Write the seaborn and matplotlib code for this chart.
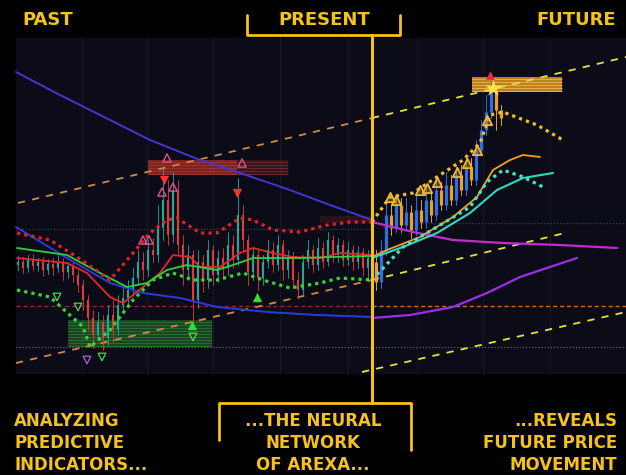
import matplotlib
matplotlib.use("Agg")
import matplotlib.pyplot as plt
import seaborn as sns
from matplotlib.patches import Rectangle

# -------------------------- data (pixel units of the 626x475 frame, y grows downward) --------------------------
# past candles
past_x = list(range(18, 369, 5))
past_open0 = 265
past_close = [262, 268, 260, 266, 262, 270, 264, 268, 262, 272, 266, 275, 285, 300, 318, 335, 322, 338,
              315, 330, 305, 298, 290, 278, 262, 270, 250, 255, 228, 200, 235, 190, 245, 270, 255, 300,
              262, 280, 250, 275, 258, 268, 245, 260, 215, 240, 272, 255, 278, 262, 250, 265, 245, 270,
              258, 280, 290, 262, 250, 265, 248, 262, 240, 255, 245, 260, 250, 262, 252, 268, 258]
past_high = [256, 257, 255, 254, 258, 257, 259, 258, 255, 258, 262, 262, 270, 280, 295, 310, 312, 315,
             305, 300, 295, 285, 280, 268, 250, 252, 240, 238, 205, 168, 180, 172, 180, 235, 245, 250,
             250, 255, 240, 245, 250, 248, 232, 235, 178, 205, 235, 248, 250, 255, 240, 242, 235, 240,
             250, 252, 272, 255, 240, 245, 238, 242, 232, 235, 238, 240, 242, 245, 246, 248, 250]
past_low = [270, 273, 272, 270, 271, 276, 274, 275, 272, 280, 278, 282, 292, 310, 330, 348, 340, 350,
            345, 342, 335, 312, 305, 296, 285, 280, 276, 262, 262, 240, 245, 242, 255, 285, 280, 322,
            308, 292, 288, 285, 282, 278, 275, 268, 265, 250, 285, 280, 290, 285, 268, 272, 270, 280,
            278, 288, 298, 295, 268, 272, 270, 268, 266, 262, 262, 266, 265, 270, 268, 276, 280]

# future candles
fut_x = list(range(376, 502, 5))
fut_open0 = 262
fut_close = [282, 250, 215, 228, 205, 225, 212, 230, 210, 222, 200, 215, 190, 205, 185, 200, 175, 190,
             168, 180, 150, 130, 112, 90, 110, 118]
fut_high = [250, 240, 200, 205, 195, 198, 198, 205, 195, 200, 185, 192, 180, 182, 172, 175, 165, 165,
            155, 158, 140, 120, 95, 82, 85, 105]
fut_low = [290, 288, 255, 235, 232, 232, 230, 238, 235, 228, 228, 222, 220, 210, 210, 205, 205, 195,
           195, 185, 185, 155, 135, 118, 130, 125]

# indicator lines
blue_top_x = [16, 60, 110, 150, 200, 240, 290, 330, 372]
blue_top_y = [72, 95, 120, 140, 160, 173, 190, 205, 220]
magenta_x = [372, 413, 453, 503, 560, 617]
magenta_y = [222, 232, 240, 243, 245, 248]
blue_low_x = [16, 67, 110, 143, 180, 217, 267, 317, 372]
blue_low_y = [227, 258, 283, 293, 298, 307, 312, 315, 317]
purple_x = [372, 410, 453, 487, 520, 577]
purple_y = [318, 315, 307, 293, 277, 258]
red_ma_x = [17, 67, 87, 110, 123, 143, 160, 173, 190, 200, 220, 240, 253, 273, 293, 320, 340, 372]
red_ma_y = [258, 263, 273, 297, 303, 287, 273, 255, 257, 267, 267, 253, 248, 253, 257, 258, 253, 255]
green_ma_x = [17, 67, 100, 127, 147, 167, 187, 217, 233, 253, 300, 333, 372]
green_ma_y = [248, 255, 273, 287, 283, 270, 265, 270, 265, 258, 258, 257, 256]
red_band_x = [17, 50, 77, 110, 133, 150, 167, 177, 200, 217, 240, 253, 273, 300, 327, 350, 372]
red_band_y = [233, 240, 257, 280, 253, 233, 220, 218, 233, 233, 218, 220, 230, 232, 225, 222, 222]
green_band_x = [17, 50, 83, 90, 110, 133, 153, 173, 193, 217, 243, 263, 290, 320, 340, 372]
green_band_y = [290, 297, 327, 347, 330, 300, 280, 273, 280, 280, 273, 280, 288, 283, 278, 280]
yellow_band_x = [372, 390, 413, 437, 463, 480, 490, 503, 537, 563]
yellow_band_y = [222, 197, 193, 177, 160, 143, 115, 112, 125, 140]
cyan_band_x = [372, 403, 437, 470, 487, 503, 523, 543]
cyan_band_y = [280, 247, 227, 207, 182, 170, 177, 187]
orange_ma_x = [372, 387, 420, 453, 477, 493, 510, 523, 540]
orange_ma_y = [257, 250, 237, 217, 197, 170, 160, 155, 157]
cyan_ma_x = [372, 403, 437, 470, 497, 523, 553]
cyan_ma_y = [258, 247, 233, 213, 190, 178, 173]

# channel lines
chan_up_past_x, chan_up_past_y = [18, 372], [203, 118]
chan_up_fut_x, chan_up_fut_y = [372, 626], [118, 57]
chan_lo_past_x, chan_lo_past_y = [16, 372], [363, 280]
chan_lo_fut_x, chan_lo_fut_y = [372, 565], [280, 233]
chan_bot_x, chan_bot_y = [362, 626], [372, 312]

# signal markers
sell_x, sell_y = [164, 237], [180, 193]
caret_x = [167, 242, 162, 173, 143, 149]
caret_y = [158, 163, 192, 187, 240, 240]
buy_x, buy_y = [192, 257], [325, 297]
vmark_x, vmark_y = [193, 78, 57, 102], [337, 307, 297, 357]
fut_sig_x = [390, 396, 420, 427, 437, 457, 467, 477, 487]
fut_sig_y = [197, 200, 190, 188, 182, 172, 163, 150, 120]

top_labels = ["PAST", "PRESENT", "FUTURE"]
bottom_left = ["ANALYZING", "PREDICTIVE", "INDICATORS..."]
bottom_mid = ["...THE NEURAL", "NETWORK", "OF AREXA..."]
bottom_right = ["...REVEALS", "FUTURE PRICE", "MOVEMENT"]

# -------------------------- style --------------------------
sns.set_theme(style="dark")
plt.rcParams['font.family'] = ['DejaVu Sans']
GOLD = '#f4c21a'
PANEL = '#0b0c17'

fig = plt.figure(figsize=(6.26, 4.75), dpi=100, facecolor='black')
ax = fig.add_axes([0, 0, 1, 1])
ax.set_facecolor('black')
ax.set_xlim(0, 626)
ax.set_ylim(475, 0)
ax.axis('off')

# chart panel + faint grid
ax.add_patch(Rectangle((16, 38), 610, 335, color=PANEL, zorder=0))
for gx in [82, 147, 213, 280, 348, 417, 483, 550]:
    ax.plot([gx, gx], [38, 373], color='#151a2a', lw=0.7, zorder=0.5)

# horizontal levels
ax.plot([16, 626], [347, 347], color='#5c5c72', lw=0.9, ls=(0, (1, 1.5)), zorder=1)
ax.plot([16, 372], [229, 229], color='#3c3c52', lw=0.9, ls=(0, (1, 1.5)), zorder=1)
ax.plot([372, 626], [223, 223], color='#2c3a8c', lw=0.9, ls=(0, (1, 1.5)), zorder=1)
ax.plot([16, 372], [306, 306], color='#8a2a2a', lw=1.0, ls=(0, (3, 2)), zorder=1)
ax.plot([372, 626], [306, 306], color='#c86a20', lw=1.0, ls=(0, (3, 2)), zorder=1)

# zones
ax.add_patch(Rectangle((148, 160), 89, 15, color='#d0342c', alpha=0.6, lw=0, zorder=1))
ax.add_patch(Rectangle((237, 160), 51, 15, color='#a02828', alpha=0.3, lw=0, zorder=1))
ax.add_patch(Rectangle((68, 320), 144, 27, color='#3cc03c', alpha=0.32, lw=0, zorder=1))
ax.add_patch(Rectangle((472, 77), 90, 15, color='#f0a020', alpha=0.8, lw=0, zorder=1))
ax.add_patch(Rectangle((320, 216), 52, 7, color='#902828', alpha=0.25, lw=0, zorder=1))
for sy in range(162, 175, 3):
    ax.plot([148, 288], [sy, sy], color='#e06050', lw=0.4, alpha=0.5, zorder=1.2)
for sy in range(322, 347, 3):
    ax.plot([68, 212], [sy, sy], color='#60e060', lw=0.4, alpha=0.45, zorder=1.2)
for sy in range(79, 92, 3):
    ax.plot([472, 562], [sy, sy], color='#ffe080', lw=0.5, alpha=0.7, zorder=1.2)


def line(xs, ys, color, lw, ls='-', z=3):
    sns.lineplot(x=xs, y=ys, color=color, lw=lw, linestyle=ls, ax=ax,
                 sort=False, estimator=None, zorder=z)


# dashed channels
line(chan_up_past_x, chan_up_past_y, '#d08a48', 1.3, (0, (4, 4)), 2)
line(chan_up_fut_x, chan_up_fut_y, '#e8e040', 1.3, (0, (4, 4)), 2)
line(chan_lo_past_x, chan_lo_past_y, '#d08a48', 1.3, (0, (4, 4)), 2)
line(chan_lo_fut_x, chan_lo_fut_y, '#e8e040', 1.3, (0, (4, 4)), 2)
line(chan_bot_x, chan_bot_y, '#e8e040', 1.3, (0, (4, 4)), 2)

# long moving averages
line(blue_top_x, blue_top_y, '#4634d4', 1.4)
line(magenta_x, magenta_y, '#c52ad0', 1.6)
line(blue_low_x, blue_low_y, '#2c3ad8', 1.4)
line(purple_x, purple_y, '#9b2fe8', 1.6)

# candles
opens = [past_open0] + past_close[:-1]
for x, o, c, h, l in zip(past_x, opens, past_close, past_high, past_low):
    col = '#26a69a' if c < o else '#e23a3a'
    ax.plot([x, x], [h, l], color=col, lw=0.6, zorder=2.5)
    ax.plot([x, x], [o, c], color=col, lw=1.5, zorder=2.6, solid_capstyle='butt')
opens = [fut_open0] + fut_close[:-1]
for x, o, c, h, l in zip(fut_x, opens, fut_close, fut_high, fut_low):
    col = '#2f6fe0' if c < o else '#e8a030'
    ax.plot([x, x], [h, l], color=col, lw=0.7, zorder=2.5)
    ax.plot([x, x], [o, c], color=col, lw=2.3, zorder=2.6, solid_capstyle='butt')

# short moving averages and bands
line(red_ma_x, red_ma_y, '#e02a2a', 1.3)
line(green_ma_x, green_ma_y, '#2ed040', 1.3)
line(orange_ma_x, orange_ma_y, '#f0a020', 1.3)
line(cyan_ma_x, cyan_ma_y, '#30d8c0', 1.5)
line(red_band_x, red_band_y, '#e42222', 2.3, (0, (1, 1.3)), 4)
line(green_band_x, green_band_y, '#34d834', 2.3, (0, (1, 1.3)), 4)
line(yellow_band_x, yellow_band_y, '#f2c020', 2.3, (0, (1, 1.3)), 4)
line(cyan_band_x, cyan_band_y, '#44e6c8', 2.3, (0, (1, 1.3)), 4)

# signals
sns.scatterplot(x=sell_x, y=sell_y, marker='v', color='#ff3030', s=45, linewidth=0, ax=ax, zorder=5)
sns.scatterplot(x=caret_x, y=caret_y, marker='^', facecolor='none', edgecolor='#e0508a',
                s=35, linewidth=1, ax=ax, zorder=5)
sns.scatterplot(x=buy_x, y=buy_y, marker='^', color='#30e030', s=45, linewidth=0, ax=ax, zorder=5)
sns.scatterplot(x=vmark_x, y=vmark_y, marker='v', facecolor='none', edgecolor='#50d850',
                s=30, linewidth=0.9, ax=ax, zorder=5)
sns.scatterplot(x=[87], y=[360], marker='v', facecolor='none', edgecolor='#b060d0',
                s=30, linewidth=0.9, ax=ax, zorder=5)
sns.scatterplot(x=fut_sig_x, y=fut_sig_y, marker='^', facecolor='#f0b03055', edgecolor='#f5b830',
                s=45, linewidth=1.3, ax=ax, zorder=5)
sns.scatterplot(x=[490], y=[75], marker='^', color='#e03030', s=40, linewidth=0, ax=ax, zorder=5)
sns.scatterplot(x=[493], y=[88], marker='*', color='#ffe040', s=160, linewidth=0, ax=ax, zorder=5)

# brackets and present divider
ax.plot([247, 247, 400, 400], [15, 35, 35, 15], color=GOLD, lw=2.0, zorder=6)
ax.plot([372, 372], [35, 403], color=GOLD, lw=2.2, zorder=6)
ax.plot([219, 219, 411, 411], [440, 403, 403, 450], color=GOLD, lw=2.0, zorder=6)

# texts
tkw = dict(color=GOLD, fontweight='bold', va='center', zorder=7)
ax.text(22, 20, top_labels[0], ha='left', fontsize=13, **tkw)
ax.text(324, 20, top_labels[1], ha='center', fontsize=13, **tkw)
ax.text(616, 20, top_labels[2], ha='right', fontsize=13, **tkw)
for i, yy in enumerate([421, 443, 465]):
    ax.text(14, yy, bottom_left[i], ha='left', fontsize=12, **tkw)
    ax.text(313, yy, bottom_mid[i], ha='center', fontsize=12, **tkw)
    ax.text(617, yy, bottom_right[i], ha='right', fontsize=12, **tkw)

fig.savefig('out.png', dpi=100, facecolor='black')
